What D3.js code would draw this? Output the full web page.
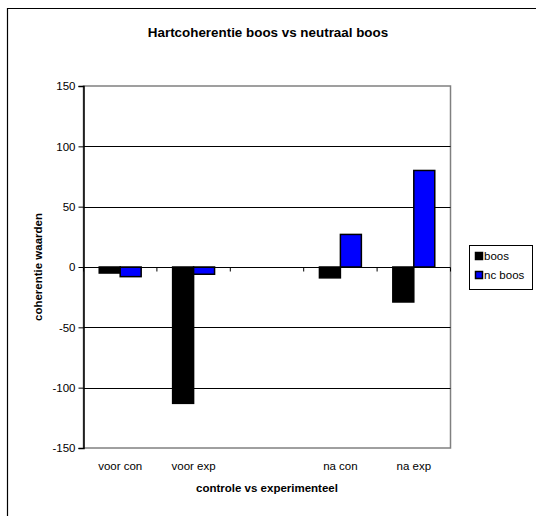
<!DOCTYPE html>
<html>
<head>
<meta charset="utf-8">
<script src="https://cdn.jsdelivr.net/npm/d3@7/dist/d3.min.js"></script>
<style>
  html, body { margin: 0; padding: 0; background: #fff; }
  svg { display: block; font-family: "Liberation Sans", Arial, sans-serif; }
</style>
</head>
<body>
<svg id="chart" width="536" height="516"></svg>
<script>
// Category labels (the third slot is an empty spacer column)
const categories = ["voor con", "voor exp", "", "na con", "na exp"];
const seriesNames = ["boos", "nc boos"];
const seriesColors = ["#000000", "#0000ff"];
const boosValues = [-5, -113, null, -9, -29];
const ncBoosValues = [-8, -6, null, 27, 80];
const yTicks = [-150, -100, -50, 0, 50, 100, 150];

const svg = d3.select("#chart");

// Outer chart frame
svg.append("path")
  .attr("d", "M7.5,516 V8.5 H536")
  .attr("fill", "none").attr("stroke", "#000").attr("stroke-width", 1.2);

const plot = { left: 83.5, right: 450.5, top: 86, bottom: 448 };

const x = d3.scaleBand().domain(d3.range(categories.length))
  .range([plot.left, plot.right]).paddingInner(0).paddingOuter(0);
const y = d3.scaleLinear().domain([-150, 150]).range([plot.bottom, plot.top]);

// Plot area border
svg.append("rect")
  .attr("x", plot.left).attr("y", plot.top)
  .attr("width", plot.right - plot.left).attr("height", plot.bottom - plot.top)
  .attr("fill", "#fff").attr("stroke", "#808080").attr("stroke-width", 1.5);

// Horizontal gridlines
svg.append("g").selectAll("line")
  .data(yTicks.filter(t => t !== 150 && t !== -150 && t !== 0))
  .join("line")
  .attr("x1", plot.left).attr("x2", plot.right)
  .attr("y1", d => Math.round(y(d)) + 0.5).attr("y2", d => Math.round(y(d)) + 0.5)
  .attr("stroke", "#000").attr("stroke-width", 1);

// Bars
const bw = x.bandwidth() / 3.5;
const series = [boosValues, ncBoosValues];
series.forEach((vals, si) => {
  svg.append("g").selectAll("rect")
    .data(vals.map((v, i) => ({ v, i })).filter(d => d.v !== null))
    .join("rect")
    .attr("x", d => x(d.i) + x.bandwidth() * 0.75 / 3.5 + si * bw)
    .attr("width", bw)
    .attr("y", d => Math.min(y(d.v), y(0)))
    .attr("height", d => Math.abs(y(d.v) - y(0)))
    .attr("fill", seriesColors[si])
    .attr("stroke", "#000").attr("stroke-width", 1.5);
});

// Value axis (plain hyphen for negative numbers)
const yAxis = svg.append("g")
  .attr("transform", `translate(${plot.left},0)`)
  .call(d3.axisLeft(y).tickValues(yTicks).tickFormat(d => String(d)).tickSize(5).tickPadding(3));
yAxis.select(".domain").attr("stroke", "#000").attr("stroke-width", 1.5);
yAxis.selectAll(".tick line").attr("stroke", "#000");
yAxis.selectAll("text").attr("font-size", 11.5).attr("fill", "#000")
  .attr("font-family", "\"Liberation Sans\", Arial, sans-serif");

// Category axis along the zero line, with ticks pointing down
const zeroY = Math.round(y(0)) + 0.5;
svg.append("line")
  .attr("x1", plot.left).attr("x2", plot.right)
  .attr("y1", zeroY).attr("y2", zeroY)
  .attr("stroke", "#000").attr("stroke-width", 1.2);
svg.append("g").selectAll("line")
  .data(d3.range(categories.length + 1))
  .join("line")
  .attr("x1", i => (i < categories.length ? x(i) : plot.right))
  .attr("x2", i => (i < categories.length ? x(i) : plot.right))
  .attr("y1", zeroY).attr("y2", zeroY + 4)
  .attr("stroke", "#000");

// Category labels at the bottom of the plot
svg.append("g").selectAll("text")
  .data(categories)
  .join("text")
  .attr("x", (d, i) => x(i) + x.bandwidth() / 2)
  .attr("y", 470)
  .attr("text-anchor", "middle")
  .attr("font-size", 11.5)
  .text(d => d);

// Titles
svg.append("text")
  .attr("x", 268).attr("y", 37)
  .attr("text-anchor", "middle").attr("font-size", 13.4).attr("font-weight", "bold")
  .text("Hartcoherentie boos vs neutraal boos");

svg.append("text")
  .attr("x", 267).attr("y", 492)
  .attr("text-anchor", "middle").attr("font-size", 11.5).attr("font-weight", "bold")
  .text("controle vs experimenteel");

svg.append("text")
  .attr("transform", "translate(42,267) rotate(-90)")
  .attr("text-anchor", "middle").attr("font-size", 11.5).attr("font-weight", "bold")
  .text("coherentie waarden");

// Legend
const lg = svg.append("g").attr("transform", "translate(469,245)");
lg.append("rect").attr("x", 0.5).attr("y", 0.5).attr("width", 63).attr("height", 44)
  .attr("fill", "#fff").attr("stroke", "#000").attr("stroke-width", 1);
seriesNames.forEach((name, i) => {
  lg.append("rect")
    .attr("x", 6.5).attr("y", 7.5 + i * 19).attr("width", 7).attr("height", 7)
    .attr("fill", seriesColors[i]).attr("stroke", "#000").attr("stroke-width", 1.5);
  lg.append("text")
    .attr("x", 15).attr("y", 15 + i * 19)
    .attr("font-size", 11.5)
    .text(name);
});
</script>
</body>
</html>
